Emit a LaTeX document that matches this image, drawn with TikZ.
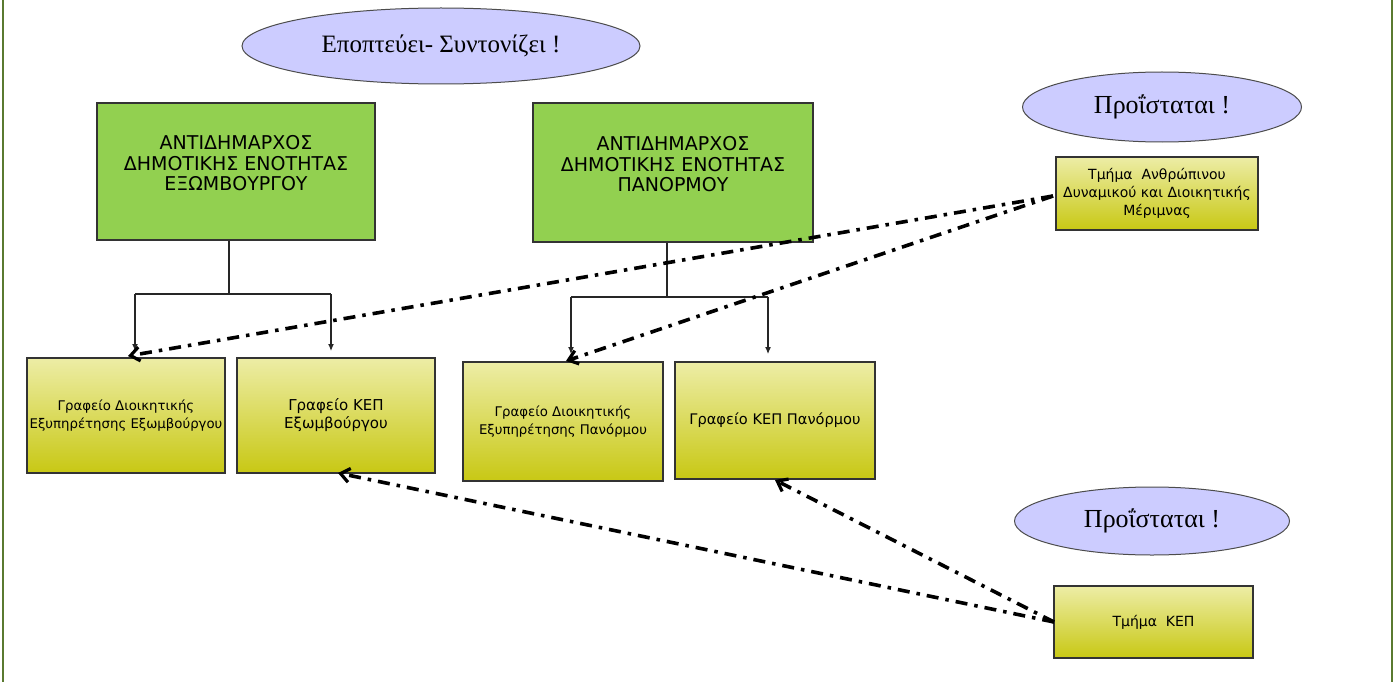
\documentclass[tikz,border=0pt]{standalone}
\usepackage{fontspec}
\setmainfont{Liberation Serif}
\newfontfamily\sansf{DejaVu Sans}
\usetikzlibrary{shapes.geometric,arrows.meta}
\definecolor{frameol}{HTML}{5A7A30}
\definecolor{ellfill}{HTML}{CCCCFF}
\definecolor{grfill}{HTML}{92D050}
\definecolor{ytop}{HTML}{EDEDA6}
\definecolor{ybot}{HTML}{C8C814}
\begin{document}
\begin{tikzpicture}[x=1pt,y=-1pt,
  oval/.style={ellipse,draw=black!70,line width=1pt,fill=ellfill,inner sep=0pt},
  greenbox/.style={rectangle,draw=black!80,line width=1.2pt,fill=grfill,inner sep=0pt},
  ybox/.style={rectangle,draw=black!80,line width=1.2pt,top color=ytop,bottom color=ybot,inner sep=0pt,align=center},
  tree/.style={line width=1.1pt,draw=black!85},
  treearrow/.style={tree,-{Latex[length=7,width=6]}},
  dd/.style={line width=3.6pt,line cap=butt,dash pattern=on 12pt off 7pt on 3.5pt off 7pt,-{Straight Barb[length=9,width=14,line width=3.2pt]}}
]
\useasboundingbox (0,0) rectangle (1394,682);
\fill[white] (0,0) rectangle (1394,682);
\draw[frameol,line width=2pt] (3,0) -- (3,682);
\draw[frameol,line width=2pt] (1392,0) -- (1392,682);

% ellipses
\node[oval,minimum width=398,minimum height=76,font=\fontsize{25}{28}\selectfont] (e1) at (441,46) {Εποπτεύει- Συντονίζει !};
\node[oval,minimum width=279,minimum height=70,font=\fontsize{26}{28}\selectfont] (e2) at (1162,107) {Προΐσταται !};
\node[oval,minimum width=275,minimum height=68,font=\fontsize{26}{28}\selectfont] (e3) at (1152,521) {Προΐσταται !};

% green boxes
\node[greenbox,minimum width=278,minimum height=137,
  label={[align=center,font=\sansf\fontsize{19}{20.5}\selectfont,yshift=8]center:ΑΝΤΙΔΗΜΑΡΧΟΣ\\ΔΗΜΟΤΙΚΗΣ ΕΝΟΤΗΤΑΣ\\ΕΞΩΜΒΟΥΡΓΟΥ}] (g1) at (236,171.5) {};
\node[greenbox,minimum width=280,minimum height=139,
  label={[align=center,font=\sansf\fontsize{19}{20.5}\selectfont,yshift=8]center:ΑΝΤΙΔΗΜΑΡΧΟΣ\\ΔΗΜΟΤΙΚΗΣ ΕΝΟΤΗΤΑΣ\\ΠΑΝΟΡΜΟΥ}] (g2) at (673,172.5) {};

% yellow boxes
\node[ybox,minimum width=202,minimum height=73,font=\sansf\fontsize{14}{18}\selectfont] (hr) at (1157,193.5) {Τμήμα\ \ Ανθρώπινου\\Δυναμικού και Διοικητικής\\Μέριμνας};
\node[ybox,minimum width=198,minimum height=115,font=\sansf\fontsize{13.3}{18}\selectfont] (a) at (126,415.5) {Γραφείο Διοικητικής\\Εξυπηρέτησης Εξωμβούργου};
\node[ybox,minimum width=198,minimum height=115,font=\sansf\fontsize{15}{18}\selectfont] (b) at (336,415.5) {Γραφείο ΚΕΠ\\Εξωμβούργου};
\node[ybox,minimum width=200,minimum height=119,font=\sansf\fontsize{13.3}{18}\selectfont] (c) at (563,421.5) {Γραφείο Διοικητικής\\Εξυπηρέτησης Πανόρμου};
\node[ybox,minimum width=200,minimum height=117,font=\sansf\fontsize{14.6}{18}\selectfont] (d) at (775,420.5) {Γραφείο ΚΕΠ Πανόρμου};
\node[ybox,minimum width=199,minimum height=72,font=\sansf\fontsize{14}{16}\selectfont] (kep) at (1153.5,622) {Τμήμα\ \ ΚΕΠ};

% tree connectors
\coordinate (j1) at (229,294);
\coordinate (j1l) at (135,294);
\coordinate (j1r) at (331,294);
\coordinate (ta) at (135,351);
\coordinate (tb) at (331,351);
\draw[tree] (g1.south -| j1) -- (j1);
\draw[tree] (j1l) -- (j1r);
\draw[treearrow] (j1l) -- (ta);
\draw[treearrow] (j1r) -- (tb);

\coordinate (j2) at (667,297);
\coordinate (j2l) at (571,297);
\coordinate (j2r) at (768,297);
\coordinate (tc) at (571,354);
\coordinate (td) at (768,354);
\draw[tree] (g2.south -| j2) -- (j2);
\draw[tree] (j2l) -- (j2r);
\draw[treearrow] (j2l) -- (tc);
\draw[treearrow] (j2r) -- (td);

% dash-dot connectors
\coordinate (hrs) at (1053,196);
\coordinate (pa) at (128,356);
\coordinate (pc) at (566,361);
\draw[dd] (hrs) -- (pa);
\draw[dd] (hrs) -- (pc);

\coordinate (ks) at (1054,622);
\coordinate (pb) at (338,473);
\coordinate (pd) at (775,480);
\draw[dd] (ks) -- (pb);
\draw[dd] (ks) -- (pd);
\end{tikzpicture}
\end{document}
